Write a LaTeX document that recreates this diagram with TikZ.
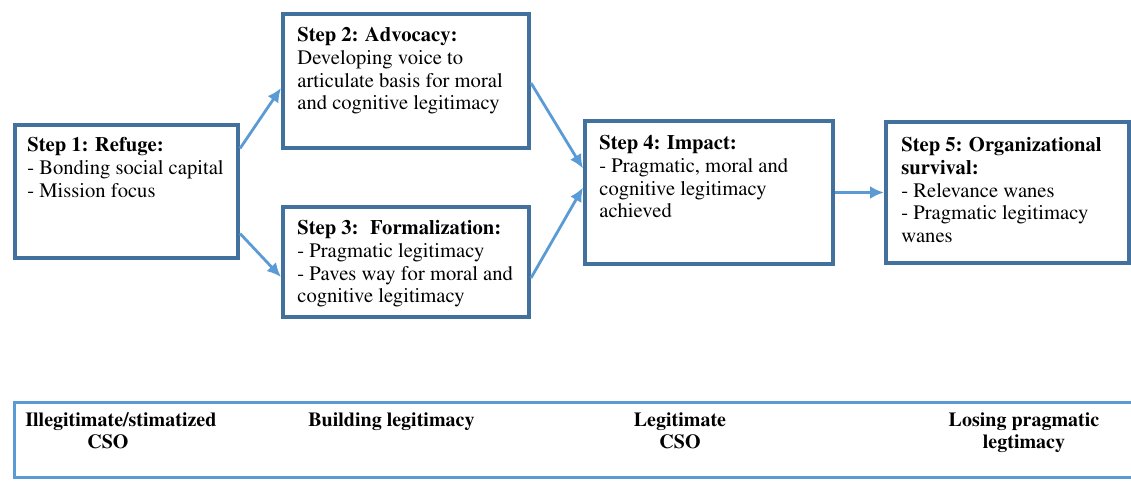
\documentclass[tikz,border=0pt]{standalone}
\usepackage[T1]{fontenc}
\usepackage{mathptmx}
\usetikzlibrary{positioning,calc,arrows.meta}

\definecolor{boxblue}{RGB}{65,113,156}
\definecolor{linkblue}{RGB}{91,155,213}

\begin{document}
\begin{tikzpicture}[x=0.5pt,y=-0.5pt,
				stepbox/.style={draw=boxblue,line width=2pt,rectangle,inner sep=0pt},
				steptext/.style={anchor=north west,inner sep=0pt,align=left,font=\fontsize{10.3}{11.4}\selectfont},
				link/.style={draw=linkblue,line width=1.4pt,-{Latex[length=7pt,width=6.5pt]}},
				barlabel/.style={inner sep=0pt,font=\fontsize{10}{11}\selectfont\bfseries}]
				\useasboundingbox (0,0) rectangle (1131,481);

				% the five steps
				\node (S1) [stepbox,minimum width=111.5pt,minimum height=66.5pt] at (126.5,191.5) {};
				\node (S2) [stepbox,minimum width=123pt,minimum height=67pt]     at (406,81)      {};
				\node (S3) [stepbox,minimum width=123pt,minimum height=55pt]     at (406,262)     {};
				\node (S4) [stepbox,minimum width=124pt,minimum height=71.5pt]   at (709,192.5)   {};
				\node (S5) [stepbox,minimum width=121.5pt,minimum height=70.5pt] at (1007.5,192.5) {};

				\node (T1) [steptext] at ([shift={(14,14)}]S1.north west)
					{\textbf{Step 1: Refuge:}\\- Bonding social capital\\- Mission focus};
				\node (T2) [steptext] at ([shift={(16,15)}]S2.north west)
					{\textbf{Step 2: Advocacy:}\\Developing voice to\\articulate basis for moral\\and cognitive legitimacy};
				\node (T3) [steptext] at ([shift={(16,15)}]S3.north west)
					{\textbf{Step 3:~ Formalization:}\\- Pragmatic legitimacy\\- Paves way for moral and\\cognitive legitimacy};
				\node (T4) [steptext] at ([shift={(16,16)}]S4.north west)
					{\textbf{Step 4: Impact:}\\- Pragmatic, moral and\\cognitive legitimacy\\achieved};
				\node (T5) [steptext] at ([shift={(17,17)}]S5.north west)
					{\textbf{Step 5: Organizational}\\\textbf{survival:}\\- Relevance wanes\\- Pragmatic legitimacy\\wanes};

				\draw[link] ([shift={(0,-43)}]S1.east) -- ([shift={(0,7)}]S2.west);
				\draw[link] ([shift={(0,42)}]S1.east)  -- ([shift={(0,15)}]S3.west);
				\draw[link] ([shift={(0,2)}]S2.east)   -- ([shift={(0,-24)}]S4.west);
				\draw[link] ([shift={(0,16)}]S3.east)  -- ([shift={(0,-5)}]S4.west);
				\draw[link] (S4.east) -- (S5.west);

				% legitimacy bar along the bottom
				\node (BAR) [draw=linkblue,line width=1.6pt,inner sep=0pt,minimum width=567.75pt,minimum height=37.5pt] at (582.25,440) {};
				\node (L1) [barlabel,anchor=north west,align=left] at (25,412)  {Illegitimate/stimatized\\\hspace*{31pt}CSO};
				\node (L2) [barlabel,anchor=north west]            at (308,412) {Building legitimacy};
				\node (L3) [barlabel,anchor=north,align=center]    at (680,412) {Legitimate\\CSO};
				\node (L4) [barlabel,anchor=north,align=center]    at (1024,412) {Losing pragmatic\\legtimacy};
			\end{tikzpicture}
\end{document}
